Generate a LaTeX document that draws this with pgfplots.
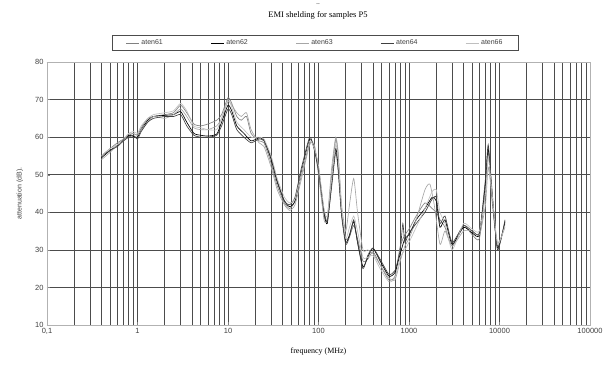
\documentclass[border=0pt]{standalone}
\usepackage{fontspec}
\setmainfont{Liberation Sans}
\newfontfamily\serifont{Liberation Serif}
\usepackage{pgfplots}
\pgfplotsset{compat=1.18}
\begin{document}
\begin{tikzpicture}
\useasboundingbox (-47pt,-45pt) rectangle (560pt,325pt);
\node[font=\serifont\fontsize{5}{6}\selectfont] at (271pt,320pt) {--};
\node[font=\serifont\fontsize{8.5}{10}\selectfont] at (271pt,310pt) {EMI shelding for samples P5};
\begin{axis}[
  scale only axis, width=543pt, height=263pt,
  xmode=log, xmin=0.1, xmax=100000, ymin=10, ymax=80,
  ytick={10,20,...,80},
  xtick={0.1,1,10,100,1000,10000,100000},
  xticklabels={{0,1},1,10,100,1000,10000,100000},
  /pgf/number format/assume math mode=true,
  tick label style={font=\fontsize{7.5}{9}\selectfont, text=black!75},
  grid=both,
  major grid style={black!70, line width=0.7pt},
  minor grid style={black!70, line width=0.7pt},
  axis line style={black!30},
  tick style={black!50},
  major tick length=3pt, minor tick length=0pt,
  xtick pos=bottom, ytick pos=left,
  xlabel={\serifont frequency (MHz)},
  xlabel style={font=\fontsize{8}{9}\selectfont, at={(0.5,-0.1)}, anchor=center},
  ylabel={attenuation (dB).},
  ylabel style={font=\fontsize{7}{8}\selectfont, text=black!75, at={(-0.05,0.5)}, anchor=center},
  legend columns=5,
  legend style={at={(0.494,1.072)}, anchor=center, draw=black!70, line width=0.6pt,
    font=\fontsize{7}{8}\selectfont, text=black!75, /tikz/every even column/.append style={column sep=46pt},
    inner xsep=14pt, inner ysep=2.5pt},
  legend image code/.code={\draw[#1, line width=0.5pt] (0pt,0pt) -- (13pt,0pt);},
  every axis plot/.append style={line width=0.65pt, smooth, tension=0.35, mark=none},
]
\addplot[black!50] coordinates {(0.42,55.5)(0.5,57)(0.6,58.5)(0.7,59.5)(0.8,60.5)(0.9,61)(1.0,60.5)(1.1,62.5)(1.3,65)(1.5,65.5)(2.0,66)(2.5,66.5)(3.0,68.5)(3.5,66.5)(4.2,63.5)(5.0,63)(6.0,63.5)(7.5,64.5)(8.5,66)(10,70.5)(11,69)(12.5,65.5)(14,64.5)(16,65.5)(18,61)(22,59)(25,58.5)(30,53)(35,47)(42,42.5)(48,41)(55,43)(65,50)(80,58.5)(90,57.5)(100,50)(115,39)(125,38)(140,50)(155,59.5)(165,55)(180,40)(200,33)(220,33.5)(245,36.5)(270,33)(310,27)(350,27.5)(400,29.5)(480,26)(600,22)(700,23)(800,31)(900,34)(1000,35.5)(1200,39)(1500,42.5)(1800,41)(2000,40)(2200,38)(2500,36)(3000,31)(4000,36.5)(5000,34)(6000,33)(7000,46)(7500,56)(8200,44)(9500,31)(11500,37)};
\addlegendentry{aten61}
\addplot[black] coordinates {(0.40,54.5)(0.5,56.5)(0.6,57.8)(0.7,59.3)(0.8,60.5)(0.9,60.2)(1.0,60)(1.1,62)(1.3,64.5)(1.5,65.5)(2.0,65.8)(2.5,66)(3.0,66.8)(3.5,64)(4.2,61)(5.0,60.5)(6.0,60.3)(7.5,60.8)(8.5,64)(10,68.5)(11,67)(12.5,63)(15,61)(18,59)(22,59.8)(25,59.2)(30,54)(35,48)(42,43)(48,41.5)(55,43)(65,51)(80,59.5)(90,57)(100,52)(115,40)(125,37)(140,48)(155,57)(165,52)(180,40)(200,32)(220,34)(245,37.5)(270,32)(310,25.5)(350,28)(400,30.4)(480,27)(600,23)(700,24)(800,29)(900,33)(1000,34)(1200,38)(1500,41)(1800,44)(2000,43)(2200,36)(2500,38)(3000,31.5)(4000,36)(5000,34.5)(6000,34)(7000,48)(7500,57)(8200,46)(9500,30.5)(11500,37.5)};
\addlegendentry{aten62}
\addplot[black!35] coordinates {(0.40,54)(0.5,56)(0.6,58)(0.7,59)(0.8,61)(0.9,61)(1.0,60.5)(1.1,62)(1.3,64)(1.5,65.5)(2.0,65)(2.5,66)(3.0,67.5)(3.5,65.5)(4.2,62.5)(5.0,62)(6.0,62)(7.5,63)(8.5,65)(10,69.5)(11,68.5)(12.5,66.5)(14,65.5)(16,66.5)(18,62)(22,58.5)(25,57.5)(30,52)(35,46)(42,42)(48,40.5)(55,42)(65,49)(80,58)(90,58)(100,51)(115,38)(125,38.5)(140,52)(155,60)(165,56)(180,42)(200,35)(220,42)(245,49)(270,40)(310,30)(350,30)(400,29)(480,26)(600,22.5)(700,22)(800,27)(900,31)(1000,33)(1200,38)(1500,46)(1700,47.5)(1900,42)(2200,31.5)(2500,35)(3000,31)(4000,35)(5000,35)(6000,34)(7000,42)(7500,52)(8200,45)(9500,32)(11500,36)};
\addlegendentry{aten63}
\addplot[black!75] coordinates {(0.40,55)(0.5,56.5)(0.6,57.5)(0.7,59)(0.8,60)(0.9,60.5)(1.0,59.5)(1.1,61.5)(1.3,64)(1.5,65)(2.0,65.5)(2.5,65.5)(3.0,66)(3.5,63)(4.2,60.5)(5.0,60)(6.0,60)(7.5,60.5)(8.5,63)(10,67.5)(11,66)(12.5,62)(15,60)(18,58.5)(22,59.5)(25,59)(30,54.5)(35,48.5)(42,43)(48,42)(55,44)(65,52)(80,60)(90,56.5)(100,51)(115,40.5)(125,37.5)(140,47)(155,56)(165,51)(180,39)(200,31.5)(220,33.5)(245,38)(270,32)(310,25)(350,28.5)(400,30.5)(480,27.5)(600,23.5)(700,24.5)(800,30)(855,37)(900,32)(1000,34.5)(1200,37)(1500,40)(1800,43.5)(2000,44)(2200,37)(2500,39)(3000,32)(4000,36.5)(5000,35)(6000,34.5)(7000,49)(7500,58)(8200,47)(9500,30)(11500,38)};
\addlegendentry{aten64}
\addplot[black!25] coordinates {(0.40,55)(0.5,57)(0.6,58)(0.7,59.5)(0.8,61)(0.9,61.5)(1.0,61)(1.1,63)(1.3,65)(1.5,66)(2.0,66.5)(2.5,67)(3.0,69)(3.5,67)(4.2,63)(5.0,62.5)(6.0,62)(7.5,62)(8.5,65)(10,70)(11,68)(12.5,64)(15,62)(18,60)(22,60)(25,59.5)(30,55)(35,49)(42,44)(48,42.5)(55,43.5)(65,50.5)(80,59)(90,57)(100,52.5)(115,41)(125,39)(140,49)(155,58)(165,54)(180,41)(200,33)(220,36)(245,39)(270,35)(310,28)(350,28)(400,28.5)(480,25)(600,21.5)(700,22.5)(800,28)(900,30)(1000,32)(1200,36)(1500,41)(1800,45.5)(2000,46)(2200,40)(2500,37)(3000,30)(4000,37)(5000,35.5)(6000,35)(7000,45)(7500,55)(8200,46)(9500,31.5)(11500,36.5)};
\addlegendentry{aten66}
\end{axis}
\end{tikzpicture}
\end{document}
